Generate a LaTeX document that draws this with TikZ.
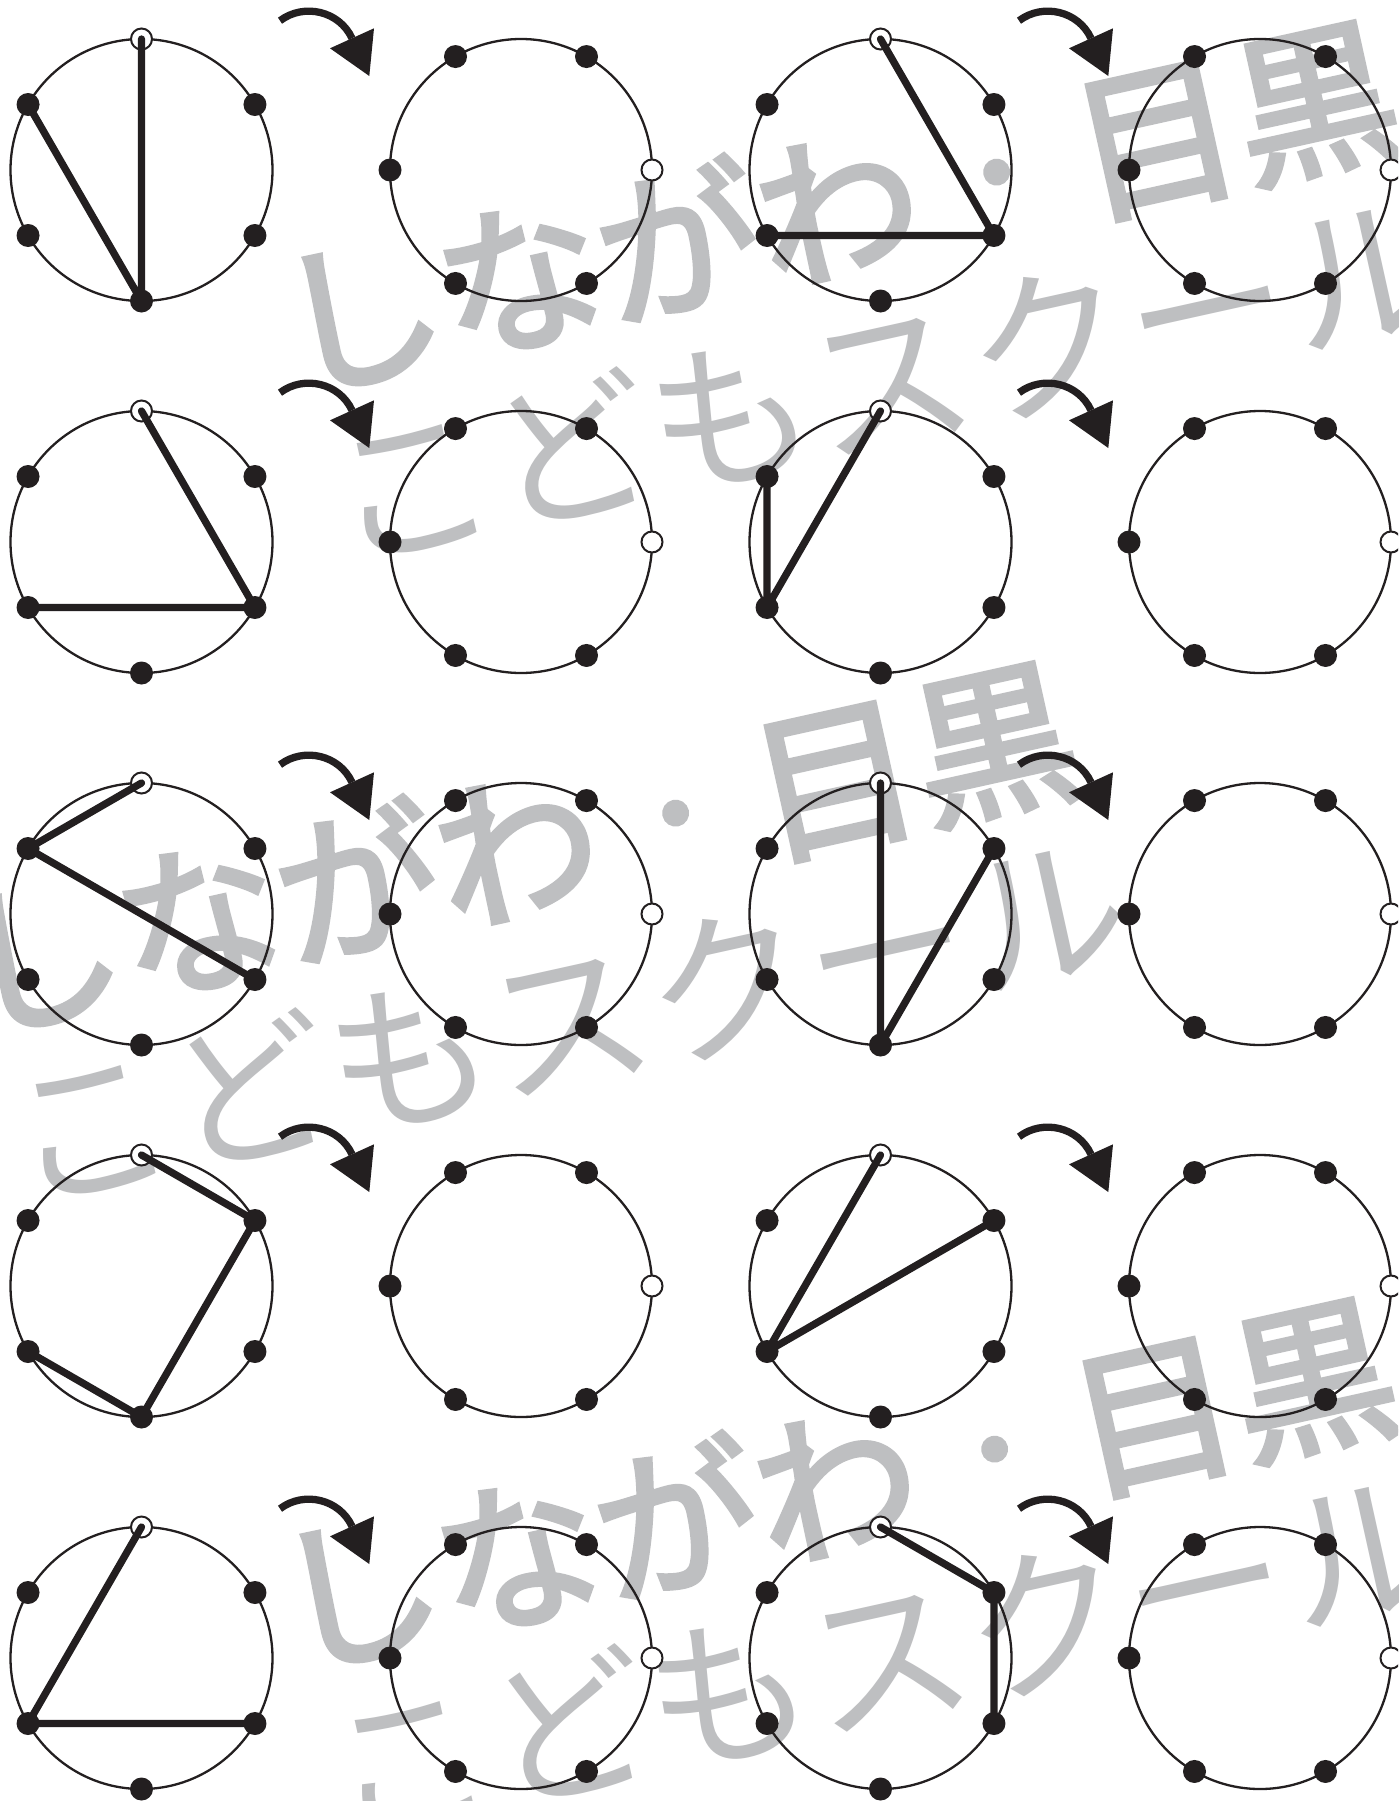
\documentclass[tikz,border=0pt]{standalone}
\usepackage{fontspec}
\newfontfamily\wmfont{Noto Sans CJK JP}
\newfontfamily\wmmid{Noto Sans CJK JP}[FakeBold=3]
\usetikzlibrary{calc}
\definecolor{ink}{HTML}{231F20}
\definecolor{wmgray}{HTML}{BEBFC1}
\newcommand\wmdot{\makebox[1em]{\raisebox{0.12em}{\scalebox{0.68}{・}}}}
\tikzset{
  rim/.style={draw=ink, line width=2.3pt},
  fdot/.style={circle, fill=ink, inner sep=0pt, outer sep=0pt, minimum size=23pt},
  odot/.style={circle, fill=white, draw=ink, line width=2pt, inner sep=0pt, outer sep=0pt, minimum size=21pt},
  chord/.style={draw=ink, line width=7.3pt, line cap=round},
  turnstroke/.style={draw=ink, line width=7.3pt},
  turnhead/.style={fill=ink},
  wmtop/.style={text=wmgray, font=\wmmid\fontsize{163pt}{163pt}\selectfont, rotate=12.5, anchor=base west, inner sep=0pt, outer sep=0pt},
  wmbot/.style={text=wmgray, font=\wmfont\fontsize{163pt}{163pt}\selectfont, rotate=12.5, anchor=base west, inner sep=0pt, outer sep=0pt},
}
\newcommand\leftwheel[3]{%
  \coordinate (#1) at (#2,#3);
  \draw[rim] (#1) circle[radius=131pt];
  \foreach \a in {30,150,210,270,330}{\node[fdot] (#1-\a) at ($(#1)+({131*cos(\a)},{-131*sin(\a)})$) {};}
  \node[odot] (#1-90) at ($(#1)+(0,-131)$) {};
}
\newcommand\rightwheel[3]{%
  \coordinate (#1) at (#2,#3);
  \draw[rim] (#1) circle[radius=131pt];
  \foreach \a in {60,120,180,240,300}{\node[fdot] (#1-\a) at ($(#1)+({131*cos(\a)},{-131*sin(\a)})$) {};}
  \node[odot] (#1-0) at ($(#1)+(131,0)$) {};
}
\newcommand\turnarrow[3]{%
  \begin{scope}[shift={(#2,#3)}]
    \coordinate (#1-t) at (138.5,-149.3);
    \coordinate (#1-c1) at (162.5,-167.3);
    \coordinate (#1-c2) at (197.9,-159);
    \coordinate (#1-m) at (210.5,-131.7);
    \coordinate (#1-b1) at (188.5,-121.7);
    \coordinate (#1-b2) at (232.5,-141.7);
    \coordinate (#1-tip) at (227.8,-94);
    \draw[turnstroke] (#1-t) .. controls (#1-c1) and (#1-c2) .. (#1-m);
    \fill[turnhead] (#1-b1) -- (#1-tip) -- (#1-b2) -- cycle;
  \end{scope}
}
\begin{document}
\begin{tikzpicture}[x=1pt,y=-1pt]
\fill[white] (0,0) rectangle (1398,1801);
\useasboundingbox (0,0) rectangle (1398,1801);
\clip (0,0) rectangle (1398,1801);
% watermark
\node[wmtop] (wm1a) at (293.9,391.1) {しながわ\wmdot 目黒};
\node[wmbot] (wm1b) at (344.9,563.1) {こどもスクール};
\node[wmtop] (wm2a) at (-27.1,1032.1) {しながわ\wmdot 目黒};
\node[wmbot] (wm2b) at (23.9,1204.1) {こどもスクール};
\node[wmtop] (wm3a) at (291.9,1668.1) {しながわ\wmdot 目黒};
\node[wmbot] (wm3b) at (342.9,1840.1) {こどもスクール};
% wheels
\leftwheel{a1}{141.5}{170}  \rightwheel{b1}{521}{170}
\leftwheel{c1}{880.5}{170}  \rightwheel{d1}{1260}{170}
\leftwheel{a2}{141.5}{542}  \rightwheel{b2}{521}{542}
\leftwheel{c2}{880.5}{542}  \rightwheel{d2}{1260}{542}
\leftwheel{a3}{141.5}{914}  \rightwheel{b3}{521}{914}
\leftwheel{c3}{880.5}{914}  \rightwheel{d3}{1260}{914}
\leftwheel{a4}{141.5}{1286} \rightwheel{b4}{521}{1286}
\leftwheel{c4}{880.5}{1286} \rightwheel{d4}{1260}{1286}
\leftwheel{a5}{141.5}{1658} \rightwheel{b5}{521}{1658}
\leftwheel{c5}{880.5}{1658} \rightwheel{d5}{1260}{1658}
% chords
\draw[chord] (a1-90.center) -- (a1-270.center) (a1-150.center) -- (a1-270.center);
\draw[chord] (c1-90.center) -- (c1-330.center) (c1-210.center) -- (c1-330.center);
\draw[chord] (a2-90.center) -- (a2-330.center) (a2-210.center) -- (a2-330.center);
\draw[chord] (c2-90.center) -- (c2-210.center) (c2-150.center) -- (c2-210.center);
\draw[chord] (a3-90.center) -- (a3-150.center) (a3-150.center) -- (a3-330.center);
\draw[chord] (c3-90.center) -- (c3-270.center) (c3-30.center) -- (c3-270.center);
\draw[chord] (a4-90.center) -- (a4-30.center) (a4-30.center) -- (a4-270.center) (a4-210.center) -- (a4-270.center);
\draw[chord] (c4-90.center) -- (c4-210.center) (c4-30.center) -- (c4-210.center);
\draw[chord] (a5-90.center) -- (a5-210.center) (a5-210.center) -- (a5-330.center);
\draw[chord] (c5-90.center) -- (c5-30.center) (c5-30.center) -- (c5-330.center);
% arrows
\turnarrow{ta1}{141.5}{170}  \turnarrow{tc1}{880.5}{170}
\turnarrow{ta2}{141.5}{542}  \turnarrow{tc2}{880.5}{542}
\turnarrow{ta3}{141.5}{914}  \turnarrow{tc3}{880.5}{914}
\turnarrow{ta4}{141.5}{1286} \turnarrow{tc4}{880.5}{1286}
\turnarrow{ta5}{141.5}{1658} \turnarrow{tc5}{880.5}{1658}
\end{tikzpicture}
\end{document}
